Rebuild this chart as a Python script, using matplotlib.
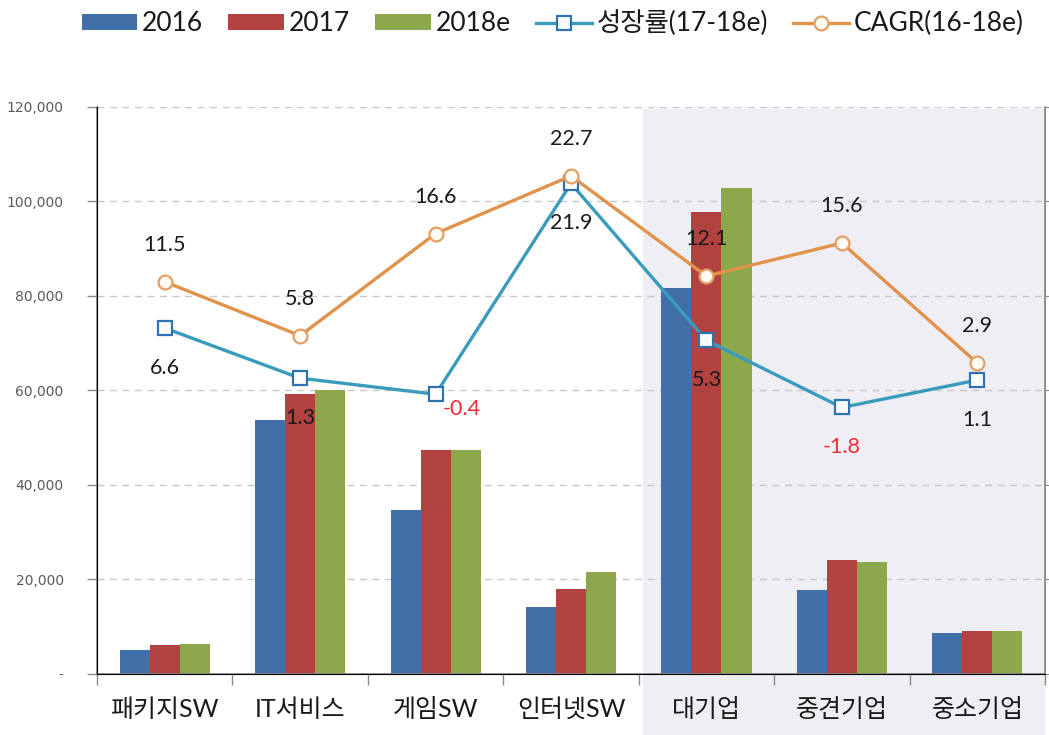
import matplotlib
matplotlib.use('Agg')

import numpy as np
import matplotlib.pyplot as plt
import matplotlib.transforms as mtransforms
from matplotlib.lines import Line2D
from matplotlib.patches import Patch, Rectangle
from matplotlib.ticker import FuncFormatter, FixedLocator


categories = ['패키지SW', 'IT서비스', '게임SW', '인터넷SW', '대기업', '중견기업', '중소기업']
sales_2016 = [5050, 53800, 34700, 14200, 81700, 17700, 8700]
sales_2017 = [6050, 59200, 47400, 17900, 97700, 24200, 9100]
sales_2018e = [6450, 60100, 47400, 21500, 102800, 23600, 9100]
growth_17_18e = [6.6, 1.3, -0.4, 21.9, 5.3, -1.8, 1.1]
cagr_16_18e = [11.5, 5.8, 16.6, 22.7, 12.1, 15.6, 2.9]

bar_labels = ['2016', '2017', '2018e']
growth_label = '성장률(17-18e)'
cagr_label = 'CAGR(16-18e)'

BLUE = '#4170a9'
RED = '#b1423f'
GREEN = '#8ca74c'
TEAL = '#3a9bbd'
TEAL_EDGE = '#2f72b3'
ORANGE = '#e1924b'
SHADE = '#efeef4'
GRID = '#c8c8c8'
AXIS = '#8a8a8a'

LABEL_FONT = ['Lato', 'Noto Sans CJK KR', 'DejaVu Sans']

fig = plt.figure(figsize=(10.49, 7.35), dpi=100)
ax = fig.add_axes([0.0925, 0.083, 0.9037, 0.7715])

x = np.arange(len(categories))
width = 0.222

# grouped bars on the primary axis
for offset, values, color in zip((-width, 0.0, width),
                                 (sales_2016, sales_2017, sales_2018e),
                                 (BLUE, RED, GREEN)):
    ax.bar(x + offset, values, width=width, color=color, zorder=2)

ax.set_xlim(-0.5, len(categories) - 0.5)
ax.set_ylim(0, 120000)

# shaded block behind the company-size groups, running down past the axis
trans = mtransforms.blended_transform_factory(ax.transData, ax.transAxes)
ax.add_patch(Rectangle((3.53, -0.12), 2.97, 1.117, transform=trans,
                       facecolor=SHADE, edgecolor='none', zorder=0, clip_on=False))

ax.set_axisbelow(True)
ax.yaxis.grid(True, linestyle=(0, (5, 4)), color=GRID, linewidth=1.0)
ax.yaxis.set_major_locator(FixedLocator(np.arange(0, 120001, 20000)))
ax.yaxis.set_major_formatter(FuncFormatter(lambda v, _: '-' if v == 0 else f'{int(v):,}'))
ax.tick_params(axis='y', direction='out', length=7, width=1, color=AXIS,
               labelsize=10, labelcolor='#5a5a5a', pad=17)
for lbl in ax.get_yticklabels():
    lbl.set_family('DejaVu Sans')

ax.set_xticks(x)
ax.set_xticklabels(categories, fontsize=18, family=LABEL_FONT, color='#1a1a1a')
ax.set_xticks(np.arange(-0.5, len(categories)), minor=True)
ax.tick_params(axis='x', which='major', length=0, pad=17)
ax.tick_params(axis='x', which='minor', direction='out', length=8, width=1, color=AXIS)

ax.spines['top'].set_visible(False)
for side in ('left', 'bottom', 'right'):
    ax.spines[side].set_color(AXIS)
    ax.spines[side].set_linewidth(1.2)

# growth-rate lines on a hidden secondary scale
ax2 = ax.twinx()
ax2.set_ylim(-30, 30)
ax2.set_yticks(np.arange(-30, 31, 10))
ax2.tick_params(axis='y', direction='out', length=5, color=AXIS, labelright=False)
ax2.spines['top'].set_visible(False)
ax2.spines['right'].set_color(AXIS)

ax2.plot(x, growth_17_18e, color=TEAL, linewidth=2.4, marker='s', markersize=10,
         markerfacecolor='white', markeredgecolor=TEAL_EDGE, markeredgewidth=1.6, zorder=3)
ax2.plot(x, cagr_16_18e, color=ORANGE, linewidth=2.4, marker='o', markersize=10,
         markerfacecolor='#fffaf2', markeredgecolor='#e3a066', markeredgewidth=1.6, zorder=4)

for xi, val in zip(x, cagr_16_18e):
    ax2.annotate(f'{val:.1f}', (xi, val), xytext=(0, 37), textcoords='offset pixels',
                 ha='center', va='center', fontsize=15.5, family=LABEL_FONT,
                 color='#1a1a1a', zorder=6)

for xi, val in zip(x, growth_17_18e):
    color = '#ee2a35' if val < 0 else '#1a1a1a'
    dx, dy = (0, -40)
    if xi == 2:
        dx, dy = (26, -15)
    ax2.annotate(f'{val:.1f}', (xi, val), xytext=(dx, dy), textcoords='offset pixels',
                 ha='center', va='center', fontsize=15.5, family=LABEL_FONT,
                 color=color, zorder=6)

handles = [
    Patch(facecolor=BLUE, edgecolor='none'),
    Patch(facecolor=RED, edgecolor='none'),
    Patch(facecolor=GREEN, edgecolor='none'),
    Line2D([], [], color=TEAL, linewidth=2.4, marker='s', markersize=10,
           markerfacecolor='white', markeredgecolor=TEAL_EDGE, markeredgewidth=1.6),
    Line2D([], [], color=ORANGE, linewidth=2.4, marker='o', markersize=10,
           markerfacecolor='#fffaf2', markeredgecolor='#e3a066', markeredgewidth=1.6),
]
fig.legend(handles, bar_labels + [growth_label, cagr_label], loc='center',
           bbox_to_anchor=(0.527, 0.968), ncol=5, frameon=False,
           prop={'family': LABEL_FONT, 'size': 19}, handlelength=2.1,
           handleheight=0.55, handletextpad=0.2, columnspacing=0.95,
           labelcolor='#1a1a1a')

fig.savefig('out.png', dpi=100, facecolor='white')
